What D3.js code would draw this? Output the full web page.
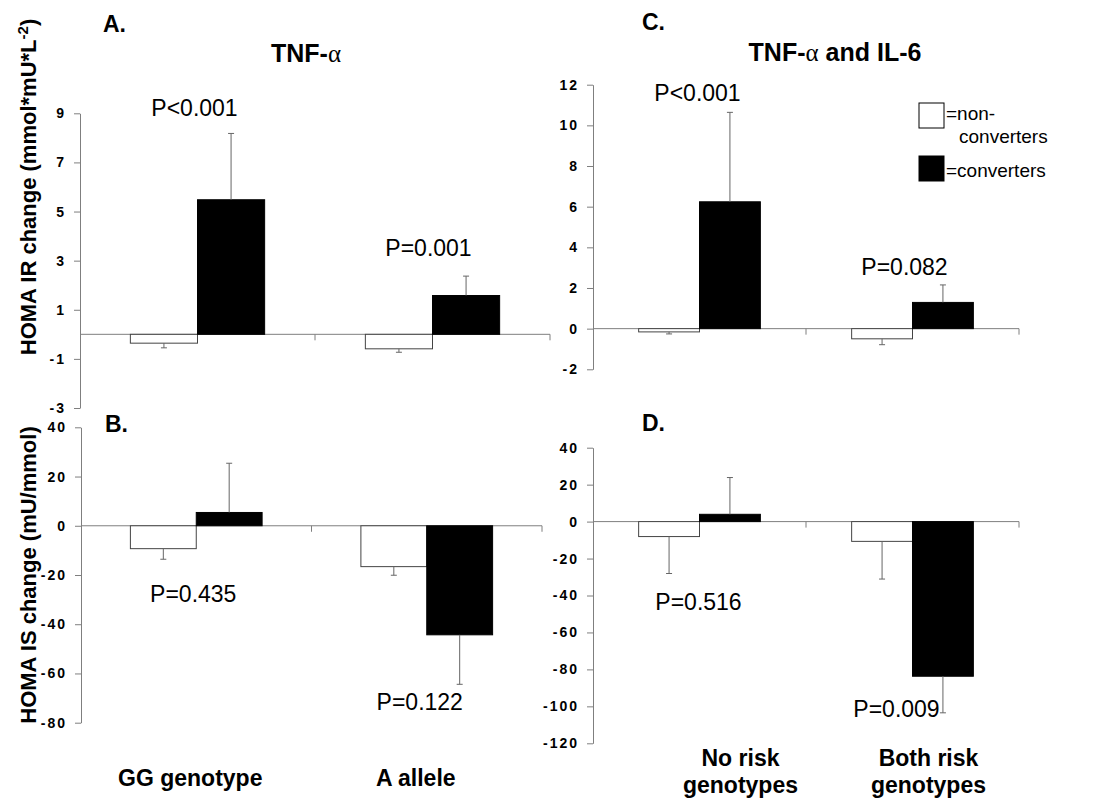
<!DOCTYPE html>
<html>
<head>
<meta charset="utf-8">
<script src="https://cdn.jsdelivr.net/npm/d3@7"></script>
<style>
  body { margin: 0; background: #fff; }
  svg { display: block; font-family: "Liberation Sans", Arial, sans-serif; }
</style>
</head>
<body>
<svg id="chart" width="1096" height="798"></svg>
<script>
// groups and series
const GROUPS_TNF = ["GG genotype", "A allele"];
const GROUPS_BOTH = [["No risk", "genotypes"], ["Both risk", "genotypes"]];
const SERIES = ["non-converters", "converters"];

// mean change per group, [non-converters, converters]
const HOMA_IR_TNF = [[-0.36, 5.48], [-0.59, 1.58]];
const HOMA_IR_TNF_SE = [[0.19, 2.7], [0.14, 0.79]];
const HOMA_IS_TNF = [[-9.3, 5.4], [-16.6, -44.3]];
const HOMA_IS_TNF_SE = [[4.3, 20.0], [3.5, 20.1]];
const HOMA_IR_BOTH = [[-0.16, 6.24], [-0.5, 1.29]];
const HOMA_IR_BOTH_SE = [[0.1, 4.4], [0.29, 0.86]];
const HOMA_IS_BOTH = [[-8.1, 3.95], [-10.7, -83.7]];
const HOMA_IS_BOTH_SE = [[20.0, 19.9], [20.4, 19.8]];

// p values per group
const P_IR_TNF = ["P<0.001", "P=0.001"];
const P_IS_TNF = ["P=0.435", "P=0.122"];
const P_IR_BOTH = ["P<0.001", "P=0.082"];
const P_IS_BOTH = ["P=0.516", "P=0.009"];

// tick labels
const TICKS_IR_TNF = [-3, -1, 1, 3, 5, 7, 9];
const TICKS_IS_TNF = [-80, -60, -40, -20, 0, 20, 40];
const TICKS_IR_BOTH = [-2, 0, 2, 4, 6, 8, 10, 12];
const TICKS_IS_BOTH = [-120, -100, -80, -60, -40, -20, 0, 20, 40];

const FILL = ["#fff", "#000"];
const AXIS_GREY = "#7f7f7f";

var svg = d3.select("svg#chart");

const panels = [
    {letter: "A.", groups: GROUPS_TNF, values: HOMA_IR_TNF, se: HOMA_IR_TNF_SE, p: P_IR_TNF, ticks: TICKS_IR_TNF,
     xr: [80, 550], yr: [408, 113.3], pSide: -1, pGap: [25, 28], pDx: [-3, -4]},
    {letter: "B.", groups: GROUPS_TNF, values: HOMA_IS_TNF, se: HOMA_IS_TNF_SE, p: P_IS_TNF, ticks: TICKS_IS_TNF,
     xr: [81, 542], yr: [722.7, 427.3], pSide: 1, pGap: [35, 18], pDx: [-3, -7]},
    {letter: "C.", groups: GROUPS_BOTH, values: HOMA_IR_BOTH, se: HOMA_IR_BOTH_SE, p: P_IR_BOTH, ticks: TICKS_IR_BOTH,
     xr: [593, 1019], yr: [369.3, 84.7], pSide: -1, pGap: [19, 18], pDx: [-2, -8]},
    {letter: "D.", groups: GROUPS_BOTH, values: HOMA_IS_BOTH, se: HOMA_IS_BOTH_SE, p: P_IS_BOTH, ticks: TICKS_IS_BOTH,
     xr: [593, 1019], yr: [743.3, 447.7], pSide: 1, pGap: [28, -4], pDx: [-1, -16]},
];
const LETTER_POS = [[103, 32], [105, 432], [642, 30], [642, 431]];

function drawPanel(cfg, idx) {
    var g = svg.append("g");
    var x = d3.scaleBand().domain(d3.range(cfg.groups.length)).range(cfg.xr).padding(0);
    var xs = d3.scaleBand().domain(d3.range(SERIES.length)).range([0, x.bandwidth()]).paddingInner(0).paddingOuter(0.75);
    var y = d3.scaleLinear().domain(d3.extent(cfg.ticks)).range(cfg.yr);

    // zero line with group separators
    var zero = g.append("g");
    zero.append("line")
        .attr("x1", cfg.xr[0]).attr("x2", cfg.xr[1])
        .attr("y1", y(0)).attr("y2", y(0))
        .attr("stroke", AXIS_GREY);
    cfg.groups.forEach(function(d, i) {
        zero.append("line")
            .attr("x1", x(i) + x.bandwidth()).attr("x2", x(i) + x.bandwidth())
            .attr("y1", y(0)).attr("y2", y(0) + 6)
            .attr("stroke", AXIS_GREY);
    });

    cfg.groups.forEach(function(grp, i) {
        cfg.values[i].forEach(function(v, s) {
            var bx = x(i) + xs(s);
            g.append("rect")
                .attr("x", bx)
                .attr("y", Math.min(y(v), y(0)))
                .attr("width", xs.bandwidth())
                .attr("height", Math.abs(y(v) - y(0)))
                .attr("fill", FILL[s])
                .attr("stroke", s == 0 ? "#444" : "#000")
                .attr("stroke-width", 1);
            var end = v >= 0 ? v + cfg.se[i][s] : v - cfg.se[i][s];
            var cx = bx + xs.bandwidth() / 2;
            g.append("line")
                .attr("x1", cx).attr("x2", cx)
                .attr("y1", y(v)).attr("y2", y(end))
                .attr("stroke", "#666").attr("stroke-width", 1);
            g.append("line")
                .attr("x1", cx - 3).attr("x2", cx + 3)
                .attr("y1", y(end)).attr("y2", y(end))
                .attr("stroke", "#666").attr("stroke-width", 1);
        });

        // p value label
        var ends = cfg.values[i].map((v, s) => v >= 0 ? v + cfg.se[i][s] : v - cfg.se[i][s]);
        var ext = cfg.pSide < 0 ? d3.max(ends) : d3.min(ends);
        g.append("text")
            .attr("x", x(i) + x.bandwidth() / 2 + cfg.pDx[i])
            .attr("y", y(ext) + cfg.pSide * cfg.pGap[i])
            .attr("dy", "0.35em")
            .attr("text-anchor", "middle")
            .style("font-size", "23px")
            .text(cfg.p[i]);
    });

    var yAxis = g.append("g")
        .attr("transform", "translate(" + cfg.xr[0] + ",0)")
        .call(d3.axisLeft(y).tickValues(cfg.ticks).tickSize(6).tickSizeOuter(0).tickPadding(8).tickFormat(d => String(d)));
    yAxis.select(".domain").attr("stroke", AXIS_GREY);
    yAxis.selectAll(".tick line").attr("stroke", AXIS_GREY);
    yAxis.selectAll(".tick text")
        .attr("fill", "#000")
        .style("font-family", "'Liberation Sans', Arial, sans-serif")
        .style("font-size", "14px")
        .style("font-weight", "bold")
        .style("letter-spacing", "2px");

    svg.append("text")
        .attr("x", LETTER_POS[idx][0])
        .attr("y", LETTER_POS[idx][1])
        .style("font-size", "23px")
        .style("font-weight", "bold")
        .text(cfg.letter);
    return x;
}

var scales = panels.map(drawPanel);

// panel titles
function title(parts, cx, yb) {
    var t = svg.append("text")
        .attr("x", cx).attr("y", yb)
        .attr("text-anchor", "middle")
        .style("font-size", "25px")
        .style("font-weight", "bold");
    parts.forEach(function(p) {
        var ts = t.append("tspan").text(p[0]);
        if (p[1]) ts.style("font-family", "'Liberation Serif', serif").style("font-weight", "normal");
    });
}
title([["TNF-"], ["\u03b1", true]], 306, 62);
title([["TNF-"], ["\u03b1", true], [" and IL-6"]], 835, 61);

// y axis titles
var irLabel = svg.append("text")
    .attr("transform", "translate(36,187) rotate(-90)")
    .attr("text-anchor", "middle")
    .style("font-size", "22px")
    .style("font-weight", "bold");
irLabel.append("tspan").text("HOMA IR change (mmol*mU*L");
irLabel.append("tspan").attr("dy", "-8").style("font-size", "15px").text("-2");
irLabel.append("tspan").attr("dy", "8").text(")");

svg.append("text")
    .attr("transform", "translate(36,575) rotate(-90)")
    .attr("text-anchor", "middle")
    .style("font-size", "22px")
    .style("font-weight", "bold")
    .text("HOMA IS change (mU/mmol)");

// category labels under the lower panels
const CAT_DX = [[-6, -11], [41, 16]];
GROUPS_TNF.forEach(function(d, i) {
    var x = scales[1];
    svg.append("text")
        .attr("x", x(i) + x.bandwidth() / 2 + CAT_DX[0][i])
        .attr("y", 786)
        .attr("text-anchor", "middle")
        .style("font-size", "23px")
        .style("font-weight", "bold")
        .text(d);
});
GROUPS_BOTH.forEach(function(lines, i) {
    var x = scales[3];
    var t = svg.append("text")
        .attr("x", x(i) + x.bandwidth() / 2 + CAT_DX[1][i])
        .attr("y", 766)
        .attr("text-anchor", "middle")
        .style("font-size", "23px")
        .style("font-weight", "bold");
    lines.forEach(function(l, k) {
        t.append("tspan")
            .attr("x", x(i) + x.bandwidth() / 2 + CAT_DX[1][i])
            .attr("dy", k == 0 ? 0 : 27)
            .text(l);
    });
});

// legend
var legend = svg.append("g").attr("transform", "translate(919,103)");
SERIES.forEach(function(s, i) {
    legend.append("rect")
        .attr("x", 0).attr("y", i * 53)
        .attr("width", 25).attr("height", 25)
        .attr("fill", FILL[i])
        .attr("stroke", "#000").attr("stroke-width", 1);
});
legend.append("text").attr("x", 27).attr("y", 17).style("font-size", "19px").text("=non-");
legend.append("text").attr("x", 40).attr("y", 40).style("font-size", "19px").text("converters");
legend.append("text").attr("x", 27).attr("y", 74).style("font-size", "19px").text("=converters");
</script>
</body>
</html>
